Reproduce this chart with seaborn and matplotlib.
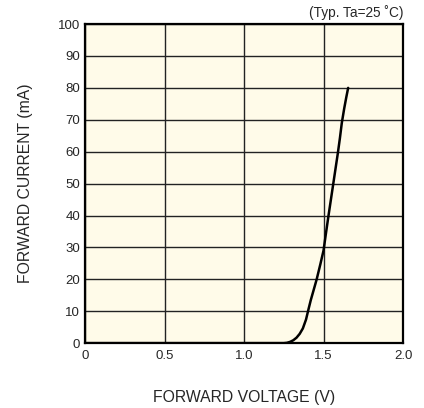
import pandas as pd
import matplotlib
matplotlib.use("Agg")
import matplotlib.pyplot as plt
import seaborn as sns

# values
voltage = [0.0, 1.00, 1.25, 1.27, 1.29, 1.31, 1.33, 1.35, 1.37, 1.39, 1.405, 1.42,
           1.44, 1.457, 1.48, 1.50, 1.515, 1.53, 1.545, 1.56, 1.575, 1.59, 1.603,
           1.615, 1.63, 1.643, 1.655]
current = [0.0, 0.0, 0.0, 0.1, 0.4, 0.9, 1.7, 2.9, 4.6, 7.4, 10.5, 13.5,
           17.0, 20.0, 24.7, 29.0, 34.3, 39.5, 44.5, 49.5, 54.5, 59.5, 64.2,
           69.0, 73.5, 77.0, 80.0]

x_ticks = [0, 0.5, 1.0, 1.5, 2.0]
x_labels = ["0", "0.5", "1.0", "1.5", "2.0"]
y_ticks = [0, 10, 20, 30, 40, 50, 60, 70, 80, 90, 100]

df = pd.DataFrame({"voltage": voltage, "current": current})

sns.set_style("white")
plt.rcParams["font.family"] = ["Liberation Sans", "DejaVu Sans"]

fig = plt.figure(figsize=(4.24, 4.08), dpi=100)
ax = fig.add_axes([0.2005, 0.159, 0.75, 0.782])
ax.set_facecolor("#fffbe9")

sns.lineplot(data=df, x="voltage", y="current", ax=ax, color="black",
             linewidth=1.8, sort=False, zorder=3)

ax.set_xlim(0, 2.0)
ax.set_ylim(0, 100)
ax.set_xticks(x_ticks)
ax.set_xticklabels(x_labels)
ax.set_yticks(y_ticks)
ax.grid(True, color="#222222", linewidth=1.0)
ax.tick_params(axis="y", length=0, labelsize=9.5, pad=3.5)
ax.tick_params(axis="x", length=0, labelsize=9.5, pad=5)

for s in ax.spines.values():
    s.set_visible(True)
    s.set_color("black")
    s.set_linewidth(1.6)

ax.set_xlabel("FORWARD VOLTAGE (V)", fontsize=11.3, labelpad=20)
ax.set_ylabel("FORWARD CURRENT (mA)", fontsize=11.3, labelpad=18)
ax.text(1.0, 1.012, "(Typ. Ta=25 ˚C)", transform=ax.transAxes,
        ha="right", va="bottom", fontsize=9.8)

fig.savefig("out.png", dpi=100)
